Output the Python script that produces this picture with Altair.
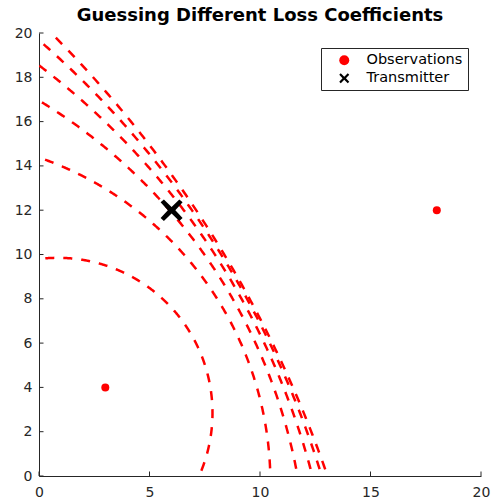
import altair as alt
import numpy as np
import pandas as pd

# ---- data ----
obs_x = [3, 18]
obs_y = [4, 12]
tx_x = [6]
tx_y = [12]
# dashed circles: centres and radii (data units)
circle_cx = [0.85, -5.07, -12.98, -20.49, -28.03, -36.48]
circle_cy = [2.85, -0.31, -4.52, -8.53, -12.55, -17.06]
circle_r = [7.00, 15.54, 25.09, 33.95, 42.71, 52.39]

x_ticks = [0, 5, 10, 15, 20]
y_ticks = [0, 2, 4, 6, 8, 10, 12, 14, 16, 18, 20]
series = ["Observations", "Transmitter"]

W, H = 442, 443
FONT = "DejaVu Sans"
AX = "#262626"

xs = alt.Scale(domain=[0, 20], nice=False, zero=False)
ys = alt.Scale(domain=[0, 20], nice=False, zero=False)

XPATH = ("M-1,-0.72L-0.7,-0.98L0,-0.3L0.7,-0.98L1,-0.72L0.34,0L1,0.72L0.7,0.98"
         "L0,0.3L-0.7,0.98L-1,0.72L-0.34,0Z")

# trace each circle's outline (geometry of a circle of given centre/radius)
rows = []
ang = np.linspace(-np.pi / 2, np.pi, 2000)
for i, (cx, cy, r) in enumerate(zip(circle_cx, circle_cy, circle_r)):
    px = cx + r * np.cos(ang)
    py = cy + r * np.sin(ang)
    keep = (px >= -0.5) & (px <= 20.5) & (py >= -0.5) & (py <= 20.5)
    for k, (a, b) in enumerate(zip(px[keep], py[keep])):
        rows.append({"c": i, "o": k, "x": a, "y": b})
curves = pd.DataFrame(rows)

obs = pd.DataFrame({"x": obs_x, "y": obs_y, "s": [series[0]] * len(obs_x)})
tx = pd.DataFrame({"x": tx_x, "y": tx_y, "s": [series[1]] * len(tx_x)})
xt = pd.DataFrame({"v": x_ticks})
yt = pd.DataFrame({"v": y_ticks})

xaxis = alt.Axis(values=x_ticks, tickSize=0, grid=False, title=None, domainColor=AX,
                 labelColor=AX, labelFont=FONT, labelFontSize=14, labelPadding=9,
                 labelFlush=False)
yaxis = alt.Axis(values=y_ticks, tickSize=0, grid=False, title=None, domainColor=AX,
                 labelColor=AX, labelFont=FONT, labelFontSize=14, labelPadding=7,
                 labelFlush=False)

lines = alt.Chart(curves).mark_line(
    color="#ff0000", strokeWidth=2.5, strokeDash=[9, 9], clip=True
).encode(
    x=alt.X("x:Q", scale=xs, axis=xaxis),
    y=alt.Y("y:Q", scale=ys, axis=yaxis),
    detail="c:N",
    order="o:Q",
)

color = alt.Color("s:N", scale=alt.Scale(domain=series, range=["#ff0000", "#000000"]),
                  legend=alt.Legend(title=None, orient="none", legendX=282, legendY=15))
shape = alt.Shape("s:N", scale=alt.Scale(domain=series, range=["circle", XPATH]))

obs_layer = alt.Chart(obs).mark_point(filled=True, size=64, opacity=1).encode(
    x=alt.X("x:Q", scale=xs), y=alt.Y("y:Q", scale=ys), color=color, shape=shape)
tx_layer = alt.Chart(tx).mark_point(filled=True, size=484, opacity=1).encode(
    x=alt.X("x:Q", scale=xs), y=alt.Y("y:Q", scale=ys), color=color, shape=shape)

xtick_layer = alt.Chart(xt).mark_rule(color=AX, strokeWidth=1).encode(
    x=alt.X("v:Q", scale=xs), y=alt.value(H), y2=alt.value(H - 4.5))
ytick_layer = alt.Chart(yt).mark_rule(color=AX, strokeWidth=1).encode(
    y=alt.Y("v:Q", scale=ys), x=alt.value(0), x2=alt.value(4.5))

chart = alt.layer(lines, xtick_layer, ytick_layer, obs_layer, tx_layer).properties(
    width=W, height=H,
    autosize=alt.AutoSizeParams(type="none"),
    padding={"left": 39, "top": 33, "right": 12, "bottom": 27},
    title=alt.Title("Guessing Different Loss Coefficients", font=FONT, fontSize=18,
                    fontWeight="bold", color="black", anchor="middle", offset=1),
).configure_view(stroke=None).configure_legend(
    fillColor="white", strokeColor=AX, strokeWidth=1, padding=5, cornerRadius=0,
    labelFont=FONT, labelFontSize=14.5, labelColor="black", symbolSize=100,
    symbolOffset=11, labelOffset=15, rowPadding=3, symbolStrokeWidth=0
)

chart.save("out.html", embed_options={"renderer": "svg", "actions": False})
